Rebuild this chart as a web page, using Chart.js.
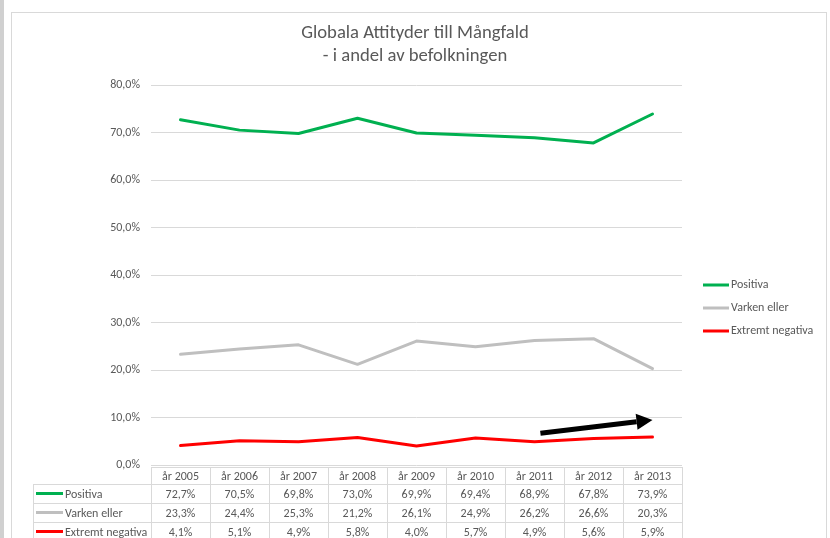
<!DOCTYPE html>
<html>
<head>
<meta charset="utf-8">
<script src="https://cdn.jsdelivr.net/npm/chart.js@4"></script>
<style>
  html, body { margin: 0; padding: 0; background: #fff; }
  body { width: 830px; height: 538px; overflow: hidden; position: relative; }
  .side { position: absolute; left: 0; top: 0; width: 4px; height: 538px; background: #d0d0d0; }
  .frame { position: absolute; left: 11px; top: 12px; width: 814px; height: 540px; border: 1px solid #d9d9d9; border-bottom: none; }
  #wrap { position: absolute; left: 0; top: 0; width: 830px; height: 538px; }
</style>
</head>
<body>
<div class="side"></div>
<div class="frame"></div>
<div id="wrap"><canvas id="chart"></canvas></div>
<script>
// Globala attityder till mångfald - andel av befolkningen (%)
const years = ['år 2005', 'år 2006', 'år 2007', 'år 2008', 'år 2009', 'år 2010', 'år 2011', 'år 2012', 'år 2013'];
const positiva = [72.7, 70.5, 69.8, 73.0, 69.9, 69.4, 68.9, 67.8, 73.9];
const varkenEller = [23.3, 24.4, 25.3, 21.2, 26.1, 24.9, 26.2, 26.6, 20.3];
const extremtNegativa = [4.1, 5.1, 4.9, 5.8, 4.0, 5.7, 4.9, 5.6, 5.9];
const yTicks = [0, 10, 20, 30, 40, 50, 60, 70, 80];
// arrow annotation, in data units (category index, percent)
const arrowFrom = [6.1, 6.7];
const arrowTo = [8.0, 9.5];

const FONT = "Carlito, 'Liberation Sans Narrow', 'Liberation Sans', Arial, sans-serif";
const TEXT = '#595959';
const GRID = '#d9d9d9';

const fmt = v => v.toFixed(1).replace('.', ',') + '%';

// draws the legend on the right, the data table under the plot and the arrow
const extrasPlugin = {
  id: 'extras',
  afterDraw(chart) {
    const ctx = chart.ctx;
    const x = chart.scales.x;
    const y = chart.scales.y;
    const area = chart.chartArea;
    const sets = chart.data.datasets;
    const colW = (area.right - area.left) / years.length;

    ctx.save();

    // legend
    ctx.font = '12px ' + FONT;
    ctx.textBaseline = 'middle';
    ctx.textAlign = 'left';
    sets.forEach((ds, i) => {
      const ly = 285 + i * 23;
      ctx.strokeStyle = ds.borderColor;
      ctx.lineWidth = 3;
      ctx.beginPath();
      ctx.moveTo(area.right + 21, ly);
      ctx.lineTo(area.right + 47, ly);
      ctx.stroke();
      ctx.fillStyle = TEXT;
      ctx.fillText(ds.label, area.right + 49, ly);
    });

    // data table
    const top = area.bottom + 2;
    const headH = 17;
    const rowH = 19;
    const labelLeft = 33;
    ctx.strokeStyle = GRID;
    ctx.lineWidth = 1;
    ctx.beginPath();
    ctx.moveTo(area.left, top + 0.5);
    ctx.lineTo(area.right + 1, top + 0.5);
    for (let r = 0; r <= sets.length; r++) {
      const ry = Math.round(top + headH + r * rowH) + 0.5;
      ctx.moveTo(labelLeft, ry);
      ctx.lineTo(area.right + 1, ry);
    }
    for (let c = 0; c <= years.length; c++) {
      const cx = Math.round(area.left + c * colW) + 0.5;
      ctx.moveTo(cx, top);
      ctx.lineTo(cx, 540);
    }
    ctx.moveTo(labelLeft + 0.5, top + headH);
    ctx.lineTo(labelLeft + 0.5, 540);
    ctx.stroke();

    ctx.fillStyle = TEXT;
    ctx.textAlign = 'center';
    years.forEach((yr, i) => {
      ctx.fillText(yr, x.getPixelForValue(i), top + headH / 2 + 1);
    });
    sets.forEach((ds, r) => {
      const ry = top + headH + r * rowH + rowH / 2 + 1;
      ctx.strokeStyle = ds.borderColor;
      ctx.lineWidth = 3;
      ctx.beginPath();
      ctx.moveTo(labelLeft + 3, ry - 1);
      ctx.lineTo(labelLeft + 30, ry - 1);
      ctx.stroke();
      ctx.textAlign = 'left';
      ctx.fillStyle = TEXT;
      ctx.fillText(ds.label, labelLeft + 32, ry);
      ctx.textAlign = 'center';
      ds.data.forEach((v, i) => {
        ctx.fillText(fmt(v), x.getPixelForValue(i), ry);
      });
    });

    // arrow
    const x0 = x.getPixelForValue(arrowFrom[0]);
    const y0 = y.getPixelForValue(arrowFrom[1]);
    const x1 = x.getPixelForValue(arrowTo[0]);
    const y1 = y.getPixelForValue(arrowTo[1]);
    const ang = Math.atan2(y1 - y0, x1 - x0);
    const headLen = 16;
    const headW = 8;
    const bx = x1 - headLen * Math.cos(ang);
    const by = y1 - headLen * Math.sin(ang);
    ctx.strokeStyle = '#000';
    ctx.fillStyle = '#000';
    ctx.lineWidth = 5;
    ctx.beginPath();
    ctx.moveTo(x0, y0);
    ctx.lineTo(bx, by);
    ctx.stroke();
    ctx.beginPath();
    ctx.moveTo(x1, y1);
    ctx.lineTo(bx + headW * Math.sin(ang), by - headW * Math.cos(ang));
    ctx.lineTo(bx - headW * Math.sin(ang), by + headW * Math.cos(ang));
    ctx.closePath();
    ctx.fill();

    ctx.restore();
  }
};

const ctx = document.getElementById('chart');
new Chart(ctx, {
  type: 'line',
  data: {
    labels: years,
    datasets: [
      { label: 'Positiva', data: positiva, borderColor: '#00b050' },
      { label: 'Varken eller', data: varkenEller, borderColor: '#bfbfbf' },
      { label: 'Extremt negativa', data: extremtNegativa, borderColor: '#ff0000' }
    ]
  },
  options: {
    responsive: true,
    maintainAspectRatio: false,
    animation: false,
    elements: {
      line: { borderWidth: 3, tension: 0, borderCapStyle: 'round', borderJoinStyle: 'round' },
      point: { radius: 0, hoverRadius: 0 }
    },
    layout: {
      padding: { left: 0, right: 0, top: 0, bottom: 73 }
    },
    plugins: {
      legend: { display: false },
      tooltip: { enabled: false },
      title: {
        display: true,
        text: ['Globala Attityder till Mångfald', '- i andel av befolkningen'],
        color: TEXT,
        font: { family: FONT, size: 18.67, weight: 'normal', lineHeight: 23 / 18.67 },
        padding: { top: 22, bottom: 17 }
      }
    },
    scales: {
      x: {
        type: 'category',
        offset: true,
        display: false
      },
      y: {
        min: 0,
        max: 80,
        afterFit: s => { s.width = 151; },
        afterBuildTicks: s => { s.ticks = yTicks.map(v => ({ value: v })); },
        border: { display: false },
        grid: { color: GRID, drawTicks: false },
        ticks: {
          padding: 11,
          color: TEXT,
          font: { family: FONT, size: 12 },
          callback: v => fmt(v)
        }
      },
      // empty right-hand axis that reserves the space for the legend
      legendSpace: {
        position: 'right',
        display: true,
        afterFit: s => { s.width = 148; },
        grid: { display: false },
        border: { display: false },
        ticks: { display: false }
      }
    }
  },
  plugins: [extrasPlugin]
});
</script>
</body>
</html>
